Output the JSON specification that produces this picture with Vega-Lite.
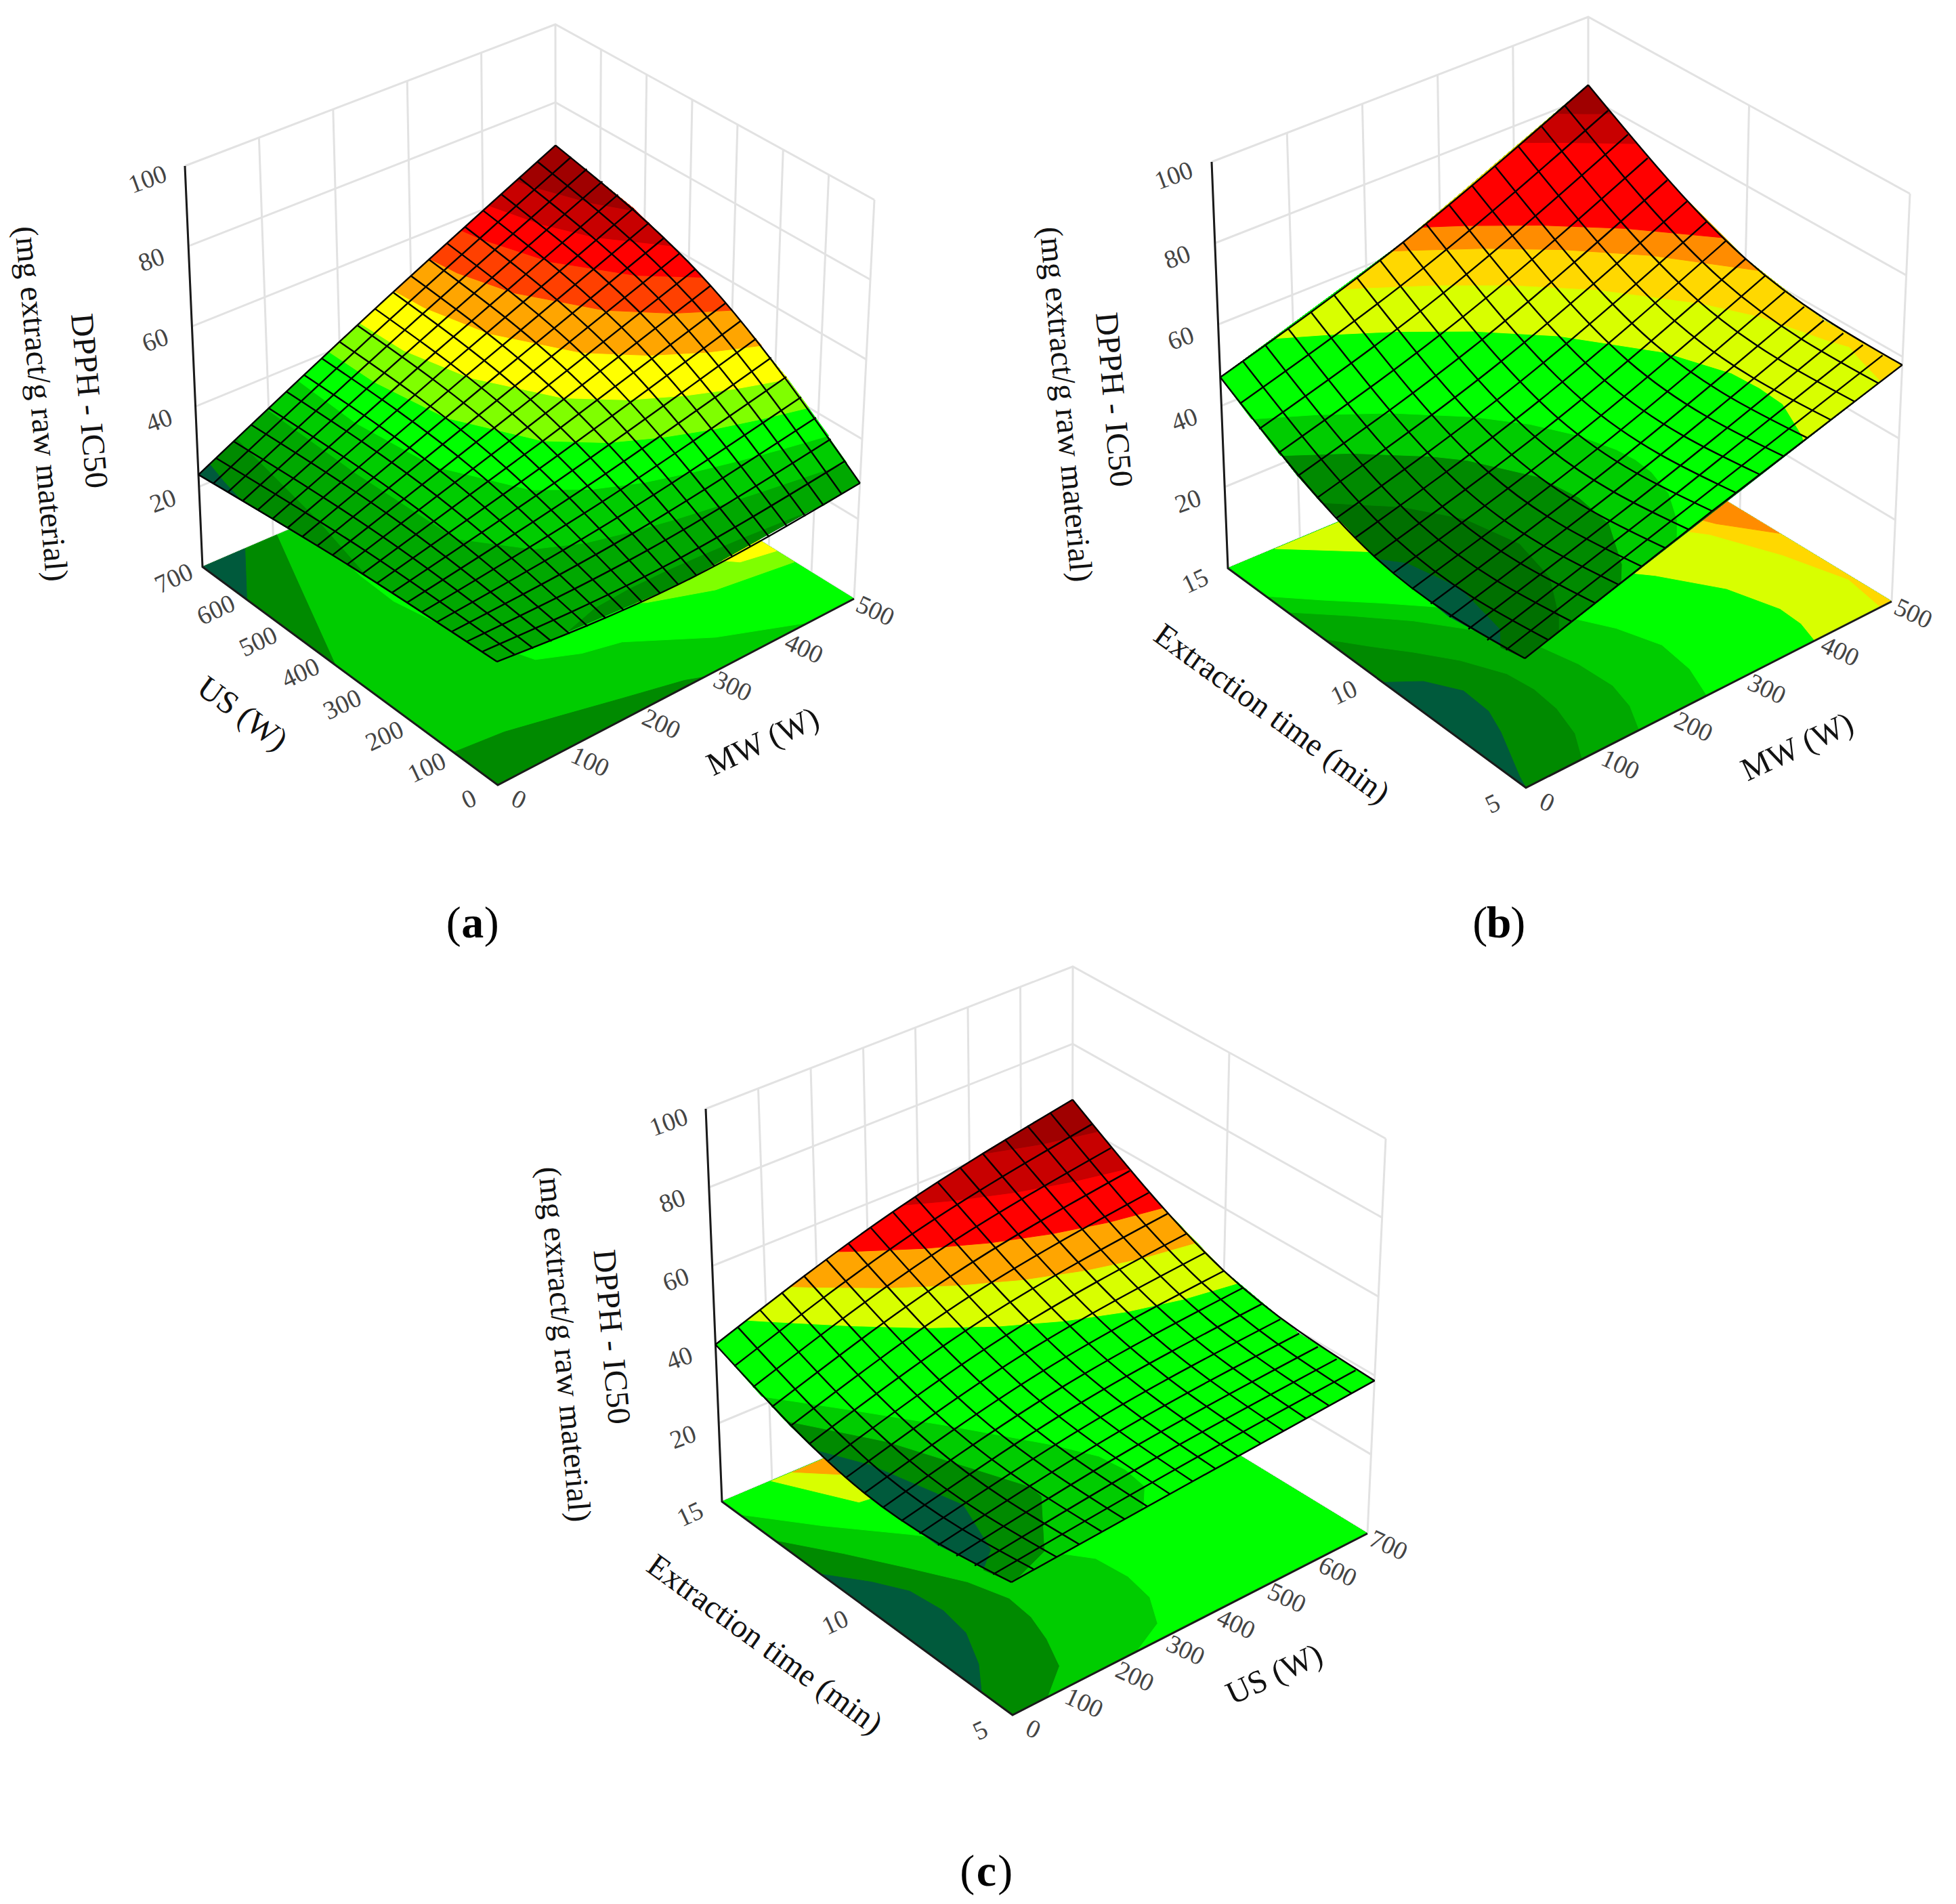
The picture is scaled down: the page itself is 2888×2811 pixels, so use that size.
{"$schema":"https://vega.github.io/schema/vega-lite/v6.json","width":2888,"height":2811,"padding":0,"autosize":{"type":"fit","contains":"padding"},"background":"white","config":{"view":{"stroke":null}},
"params":[{"name":"G","value":{"a":{"x":[735,1261,299,821,731,1291,273,820],"y":[1159,884,837,612,552,295,245,36]},"b":{"x":[2253,2793,1813,2345,2248,2820,1789,2345],"y":[1163,888,839,616,547,286,239,25]},"c":{"x":[1495,2019,1066,1583,1490,2046,1042,1584],"y":[2532,2264,2217,1998,1936,1681,1637,1427]}}}],
"data":{"values":[
{"k":"w","p":"a","l":"u0","u":0,"v":1,"z":0},{"k":"w","p":"a","l":"u0","u":0,"v":1,"z":100},{"k":"w","p":"a","l":"u1","u":0.2,"v":1,"z":0},{"k":"w","p":"a","l":"u1","u":0.2,"v":1,"z":100},{"k":"w","p":"a","l":"u2","u":0.4,"v":1,"z":0},{"k":"w","p":"a","l":"u2","u":0.4,"v":1,"z":100},{"k":"w","p":"a","l":"u3","u":0.6,"v":1,"z":0},{"k":"w","p":"a","l":"u3","u":0.6,"v":1,"z":100},{"k":"w","p":"a","l":"u4","u":0.8,"v":1,"z":0},{"k":"w","p":"a","l":"u4","u":0.8,"v":1,"z":100},{"k":"w","p":"a","l":"u5","u":1,"v":1,"z":0},{"k":"w","p":"a","l":"u5","u":1,"v":1,"z":100},
{"k":"w","p":"a","l":"v1","u":1,"v":0.143,"z":0},{"k":"w","p":"a","l":"v1","u":1,"v":0.143,"z":100},{"k":"w","p":"a","l":"v2","u":1,"v":0.286,"z":0},{"k":"w","p":"a","l":"v2","u":1,"v":0.286,"z":100},{"k":"w","p":"a","l":"v3","u":1,"v":0.429,"z":0},{"k":"w","p":"a","l":"v3","u":1,"v":0.429,"z":100},{"k":"w","p":"a","l":"v4","u":1,"v":0.571,"z":0},{"k":"w","p":"a","l":"v4","u":1,"v":0.571,"z":100},{"k":"w","p":"a","l":"v5","u":1,"v":0.714,"z":0},{"k":"w","p":"a","l":"v5","u":1,"v":0.714,"z":100},{"k":"w","p":"a","l":"v6","u":1,"v":0.857,"z":0},{"k":"w","p":"a","l":"v6","u":1,"v":0.857,"z":100},{"k":"w","p":"a","l":"v7","u":1,"v":0,"z":0},{"k":"w","p":"a","l":"v7","u":1,"v":0,"z":100},
{"k":"w","p":"b","l":"u0","u":0,"v":1,"z":0},{"k":"w","p":"b","l":"u0","u":0,"v":1,"z":100},{"k":"w","p":"b","l":"u1","u":0.2,"v":1,"z":0},{"k":"w","p":"b","l":"u1","u":0.2,"v":1,"z":100},{"k":"w","p":"b","l":"u2","u":0.4,"v":1,"z":0},{"k":"w","p":"b","l":"u2","u":0.4,"v":1,"z":100},{"k":"w","p":"b","l":"u3","u":0.6,"v":1,"z":0},{"k":"w","p":"b","l":"u3","u":0.6,"v":1,"z":100},{"k":"w","p":"b","l":"u4","u":0.8,"v":1,"z":0},{"k":"w","p":"b","l":"u4","u":0.8,"v":1,"z":100},{"k":"w","p":"b","l":"u5","u":1,"v":1,"z":0},{"k":"w","p":"b","l":"u5","u":1,"v":1,"z":100},{"k":"w","p":"b","l":"v1","u":1,"v":0.5,"z":0},{"k":"w","p":"b","l":"v1","u":1,"v":0.5,"z":100},{"k":"w","p":"b","l":"v2","u":1,"v":0,"z":0},{"k":"w","p":"b","l":"v2","u":1,"v":0,"z":100},
{"k":"w","p":"c","l":"u0","u":0,"v":1,"z":0},{"k":"w","p":"c","l":"u0","u":0,"v":1,"z":100},{"k":"w","p":"c","l":"u1","u":0.143,"v":1,"z":0},{"k":"w","p":"c","l":"u1","u":0.143,"v":1,"z":100},{"k":"w","p":"c","l":"u2","u":0.286,"v":1,"z":0},{"k":"w","p":"c","l":"u2","u":0.286,"v":1,"z":100},{"k":"w","p":"c","l":"u3","u":0.429,"v":1,"z":0},{"k":"w","p":"c","l":"u3","u":0.429,"v":1,"z":100},{"k":"w","p":"c","l":"u4","u":0.571,"v":1,"z":0},{"k":"w","p":"c","l":"u4","u":0.571,"v":1,"z":100},{"k":"w","p":"c","l":"u5","u":0.714,"v":1,"z":0},{"k":"w","p":"c","l":"u5","u":0.714,"v":1,"z":100},{"k":"w","p":"c","l":"u6","u":0.857,"v":1,"z":0},{"k":"w","p":"c","l":"u6","u":0.857,"v":1,"z":100},{"k":"w","p":"c","l":"u7","u":1,"v":1,"z":0},{"k":"w","p":"c","l":"u7","u":1,"v":1,"z":100},{"k":"w","p":"c","l":"v1","u":1,"v":0.5,"z":0},{"k":"w","p":"c","l":"v1","u":1,"v":0.5,"z":100},{"k":"w","p":"c","l":"v2","u":1,"v":0,"z":0},{"k":"w","p":"c","l":"v2","u":1,"v":0,"z":100},
{"k":"w","p":"a","l":"z0","u":0,"v":1,"z":0},{"k":"w","p":"a","l":"z0","u":1,"v":1,"z":0},{"k":"w","p":"a","l":"z0","u":1,"v":0,"z":0},{"k":"w","p":"a","l":"z20","u":0,"v":1,"z":20},{"k":"w","p":"a","l":"z20","u":1,"v":1,"z":20},{"k":"w","p":"a","l":"z20","u":1,"v":0,"z":20},{"k":"w","p":"a","l":"z40","u":0,"v":1,"z":40},{"k":"w","p":"a","l":"z40","u":1,"v":1,"z":40},{"k":"w","p":"a","l":"z40","u":1,"v":0,"z":40},{"k":"w","p":"a","l":"z60","u":0,"v":1,"z":60},{"k":"w","p":"a","l":"z60","u":1,"v":1,"z":60},{"k":"w","p":"a","l":"z60","u":1,"v":0,"z":60},{"k":"w","p":"a","l":"z80","u":0,"v":1,"z":80},{"k":"w","p":"a","l":"z80","u":1,"v":1,"z":80},{"k":"w","p":"a","l":"z80","u":1,"v":0,"z":80},{"k":"w","p":"a","l":"z100","u":0,"v":1,"z":100},{"k":"w","p":"a","l":"z100","u":1,"v":1,"z":100},{"k":"w","p":"a","l":"z100","u":1,"v":0,"z":100},
{"k":"w","p":"b","l":"z0","u":0,"v":1,"z":0},{"k":"w","p":"b","l":"z0","u":1,"v":1,"z":0},{"k":"w","p":"b","l":"z0","u":1,"v":0,"z":0},{"k":"w","p":"b","l":"z20","u":0,"v":1,"z":20},{"k":"w","p":"b","l":"z20","u":1,"v":1,"z":20},{"k":"w","p":"b","l":"z20","u":1,"v":0,"z":20},{"k":"w","p":"b","l":"z40","u":0,"v":1,"z":40},{"k":"w","p":"b","l":"z40","u":1,"v":1,"z":40},{"k":"w","p":"b","l":"z40","u":1,"v":0,"z":40},{"k":"w","p":"b","l":"z60","u":0,"v":1,"z":60},{"k":"w","p":"b","l":"z60","u":1,"v":1,"z":60},{"k":"w","p":"b","l":"z60","u":1,"v":0,"z":60},{"k":"w","p":"b","l":"z80","u":0,"v":1,"z":80},{"k":"w","p":"b","l":"z80","u":1,"v":1,"z":80},{"k":"w","p":"b","l":"z80","u":1,"v":0,"z":80},{"k":"w","p":"b","l":"z100","u":0,"v":1,"z":100},{"k":"w","p":"b","l":"z100","u":1,"v":1,"z":100},{"k":"w","p":"b","l":"z100","u":1,"v":0,"z":100},
{"k":"w","p":"c","l":"z0","u":0,"v":1,"z":0},{"k":"w","p":"c","l":"z0","u":1,"v":1,"z":0},{"k":"w","p":"c","l":"z0","u":1,"v":0,"z":0},{"k":"w","p":"c","l":"z20","u":0,"v":1,"z":20},{"k":"w","p":"c","l":"z20","u":1,"v":1,"z":20},{"k":"w","p":"c","l":"z20","u":1,"v":0,"z":20},{"k":"w","p":"c","l":"z40","u":0,"v":1,"z":40},{"k":"w","p":"c","l":"z40","u":1,"v":1,"z":40},{"k":"w","p":"c","l":"z40","u":1,"v":0,"z":40},{"k":"w","p":"c","l":"z60","u":0,"v":1,"z":60},{"k":"w","p":"c","l":"z60","u":1,"v":1,"z":60},{"k":"w","p":"c","l":"z60","u":1,"v":0,"z":60},{"k":"w","p":"c","l":"z80","u":0,"v":1,"z":80},{"k":"w","p":"c","l":"z80","u":1,"v":1,"z":80},{"k":"w","p":"c","l":"z80","u":1,"v":0,"z":80},{"k":"w","p":"c","l":"z100","u":0,"v":1,"z":100},{"k":"w","p":"c","l":"z100","u":1,"v":1,"z":100},{"k":"w","p":"c","l":"z100","u":1,"v":0,"z":100},
{"k":"x","p":"a","u":0,"v":1,"z":100},{"k":"x","p":"a","u":0,"v":1,"z":0},{"k":"x","p":"a","u":0,"v":0,"z":0},{"k":"x","p":"a","u":1,"v":0,"z":0},{"k":"x","p":"b","u":0,"v":1,"z":100},{"k":"x","p":"b","u":0,"v":1,"z":0},{"k":"x","p":"b","u":0,"v":0,"z":0},{"k":"x","p":"b","u":1,"v":0,"z":0},{"k":"x","p":"c","u":0,"v":1,"z":100},{"k":"x","p":"c","u":0,"v":1,"z":0},{"k":"x","p":"c","u":0,"v":0,"z":0},{"k":"x","p":"c","u":1,"v":0,"z":0},

{"k":"f","p":"a","b":"m","u":0,"v":0,"z":0},{"k":"f","p":"a","b":"m","u":1,"v":0,"z":0},{"k":"f","p":"a","b":"m","u":1,"v":1,"z":0},{"k":"f","p":"a","b":"m","u":0,"v":1,"z":0},
{"k":"f","p":"a","b":"d","u":0,"v":0,"z":0},{"k":"f","p":"a","b":"d","u":0,"v":0.15,"z":0},{"k":"f","p":"a","b":"d","u":0.13,"v":0.135,"z":0},{"k":"f","p":"a","b":"d","u":0.26,"v":0.1,"z":0},{"k":"f","p":"a","b":"d","u":0.4,"v":0.06,"z":0},{"k":"f","p":"a","b":"d","u":0.54,"v":0.02,"z":0},{"k":"f","p":"a","b":"d","u":0.58,"v":0,"z":0},
{"k":"f","p":"a","b":"d2","u":0,"v":0.55,"z":0},{"k":"f","p":"a","b":"d2","u":0.12,"v":0.81,"z":0},{"k":"f","p":"a","b":"d2","u":0.21,"v":1,"z":0},{"k":"f","p":"a","b":"d2","u":0,"v":1,"z":0},
{"k":"f","p":"a","b":"t","u":0,"v":0.85,"z":0},{"k":"f","p":"a","b":"t","u":0.12,"v":1,"z":0},{"k":"f","p":"a","b":"t","u":0,"v":1,"z":0},
{"k":"f","p":"a","b":"g","u":0.3,"v":1,"z":0},{"k":"f","p":"a","b":"g","u":0.278,"v":0.923,"z":0},{"k":"f","p":"a","b":"g","u":0.256,"v":0.773,"z":0},{"k":"f","p":"a","b":"g","u":0.251,"v":0.654,"z":0},{"k":"f","p":"a","b":"g","u":0.281,"v":0.49,"z":0},{"k":"f","p":"a","b":"g","u":0.349,"v":0.293,"z":0},{"k":"f","p":"a","b":"g","u":0.44,"v":0.245,"z":0},{"k":"f","p":"a","b":"g","u":0.532,"v":0.22,"z":0},{"k":"f","p":"a","b":"g","u":0.692,"v":0.097,"z":0},{"k":"f","p":"a","b":"g","u":0.872,"v":0,"z":0},{"k":"f","p":"a","b":"g","u":1,"v":0,"z":0},{"k":"f","p":"a","b":"g","u":1,"v":1,"z":0},
{"k":"f","p":"a","b":"l","u":0.4,"v":1,"z":0},{"k":"f","p":"a","b":"l","u":0.45,"v":0.45,"z":0},{"k":"f","p":"a","b":"l","u":0.667,"v":0.298,"z":0},{"k":"f","p":"a","b":"l","u":0.807,"v":0.235,"z":0},{"k":"f","p":"a","b":"l","u":1,"v":0.2,"z":0},{"k":"f","p":"a","b":"l","u":1,"v":1,"z":0},
{"k":"f","p":"a","b":"y","u":0.6,"v":1,"z":0},{"k":"f","p":"a","b":"y","u":0.65,"v":0.6,"z":0},{"k":"f","p":"a","b":"y","u":0.915,"v":0.281,"z":0},{"k":"f","p":"a","b":"y","u":1,"v":0.26,"z":0},{"k":"f","p":"a","b":"y","u":1,"v":1,"z":0},

{"k":"f","p":"b","b":"d","u":0,"v":0,"z":0},{"k":"f","p":"b","b":"d","u":1,"v":0,"z":0},{"k":"f","p":"b","b":"d","u":1,"v":1,"z":0},{"k":"f","p":"b","b":"d","u":0,"v":1,"z":0},
{"k":"f","p":"b","b":"t","u":0,"v":0.48,"z":0},{"k":"f","p":"b","b":"t","u":0.07,"v":0.43,"z":0},{"k":"f","p":"b","b":"t","u":0.115,"v":0.35,"z":0},{"k":"f","p":"b","b":"t","u":0.11,"v":0.26,"z":0},{"k":"f","p":"b","b":"t","u":0.083,"v":0.186,"z":0},{"k":"f","p":"b","b":"t","u":0.014,"v":0.038,"z":0},{"k":"f","p":"b","b":"t","u":0,"v":0,"z":0},
{"k":"f","p":"b","b":"e","u":0,"v":1,"z":0},{"k":"f","p":"b","b":"e","u":1,"v":1,"z":0},{"k":"f","p":"b","b":"e","u":1,"v":0,"z":0},{"k":"f","p":"b","b":"e","u":0.154,"v":0,"z":0},{"k":"f","p":"b","b":"e","u":0.2,"v":0.08,"z":0},{"k":"f","p":"b","b":"e","u":0.227,"v":0.174,"z":0},{"k":"f","p":"b","b":"e","u":0.235,"v":0.26,"z":0},{"k":"f","p":"b","b":"e","u":0.226,"v":0.34,"z":0},{"k":"f","p":"b","b":"e","u":0.18,"v":0.44,"z":0},{"k":"f","p":"b","b":"e","u":0.121,"v":0.525,"z":0},{"k":"f","p":"b","b":"e","u":0.06,"v":0.6,"z":0},{"k":"f","p":"b","b":"e","u":0,"v":0.678,"z":0},
{"k":"f","p":"b","b":"m","u":0,"v":1,"z":0},{"k":"f","p":"b","b":"m","u":1,"v":1,"z":0},{"k":"f","p":"b","b":"m","u":1,"v":0,"z":0},{"k":"f","p":"b","b":"m","u":0.31,"v":0,"z":0},{"k":"f","p":"b","b":"m","u":0.35,"v":0.08,"z":0},{"k":"f","p":"b","b":"m","u":0.37,"v":0.162,"z":0},{"k":"f","p":"b","b":"m","u":0.365,"v":0.27,"z":0},{"k":"f","p":"b","b":"m","u":0.342,"v":0.379,"z":0},{"k":"f","p":"b","b":"m","u":0.28,"v":0.5,"z":0},{"k":"f","p":"b","b":"m","u":0.194,"v":0.615,"z":0},{"k":"f","p":"b","b":"m","u":0.1,"v":0.71,"z":0},{"k":"f","p":"b","b":"m","u":0,"v":0.8,"z":0},
{"k":"f","p":"b","b":"g","u":0,"v":1,"z":0},{"k":"f","p":"b","b":"g","u":1,"v":1,"z":0},{"k":"f","p":"b","b":"g","u":1,"v":0,"z":0},{"k":"f","p":"b","b":"g","u":0.495,"v":0,"z":0},{"k":"f","p":"b","b":"g","u":0.53,"v":0.1,"z":0},{"k":"f","p":"b","b":"g","u":0.543,"v":0.208,"z":0},{"k":"f","p":"b","b":"g","u":0.51,"v":0.32,"z":0},{"k":"f","p":"b","b":"g","u":0.459,"v":0.418,"z":0},{"k":"f","p":"b","b":"g","u":0.33,"v":0.56,"z":0},{"k":"f","p":"b","b":"g","u":0.183,"v":0.707,"z":0},{"k":"f","p":"b","b":"g","u":0.09,"v":0.79,"z":0},{"k":"f","p":"b","b":"g","u":0,"v":0.873,"z":0},
{"k":"f","p":"b","b":"z","u":0.13,"v":1,"z":0},{"k":"f","p":"b","b":"z","u":0.29,"v":0.87,"z":0},{"k":"f","p":"b","b":"z","u":0.45,"v":0.72,"z":0},{"k":"f","p":"b","b":"z","u":0.58,"v":0.57,"z":0},{"k":"f","p":"b","b":"z","u":0.7,"v":0.42,"z":0},{"k":"f","p":"b","b":"z","u":0.78,"v":0.28,"z":0},{"k":"f","p":"b","b":"z","u":0.814,"v":0.144,"z":0},{"k":"f","p":"b","b":"z","u":0.81,"v":0.07,"z":0},{"k":"f","p":"b","b":"z","u":0.79,"v":0,"z":0},{"k":"f","p":"b","b":"z","u":1,"v":0,"z":0},{"k":"f","p":"b","b":"z","u":1,"v":1,"z":0},
{"k":"f","p":"b","b":"n","u":0.5,"v":1,"z":0},{"k":"f","p":"b","b":"n","u":0.889,"v":0.466,"z":0},{"k":"f","p":"b","b":"n","u":0.95,"v":0.3,"z":0},{"k":"f","p":"b","b":"n","u":0.99,"v":0.13,"z":0},{"k":"f","p":"b","b":"n","u":0.97,"v":0,"z":0},{"k":"f","p":"b","b":"n","u":1,"v":0,"z":0},{"k":"f","p":"b","b":"n","u":1,"v":1,"z":0},
{"k":"f","p":"b","b":"h","u":0.7,"v":1,"z":0},{"k":"f","p":"b","b":"h","u":0.926,"v":0.49,"z":0},{"k":"f","p":"b","b":"h","u":1,"v":0.37,"z":0},{"k":"f","p":"b","b":"h","u":1,"v":1,"z":0},

{"k":"f","p":"c","b":"d","u":0,"v":0,"z":0},{"k":"f","p":"c","b":"d","u":1,"v":0,"z":0},{"k":"f","p":"c","b":"d","u":1,"v":1,"z":0},{"k":"f","p":"c","b":"d","u":0,"v":1,"z":0},
{"k":"f","p":"c","b":"t","u":0,"v":0.66,"z":0},{"k":"f","p":"c","b":"t","u":0.07,"v":0.57,"z":0},{"k":"f","p":"c","b":"t","u":0.114,"v":0.492,"z":0},{"k":"f","p":"c","b":"t","u":0.125,"v":0.39,"z":0},{"k":"f","p":"c","b":"t","u":0.111,"v":0.296,"z":0},{"k":"f","p":"c","b":"t","u":0.06,"v":0.19,"z":0},{"k":"f","p":"c","b":"t","u":0,"v":0.107,"z":0},
{"k":"f","p":"c","b":"m","u":0,"v":1,"z":0},{"k":"f","p":"c","b":"m","u":1,"v":1,"z":0},{"k":"f","p":"c","b":"m","u":1,"v":0,"z":0},{"k":"f","p":"c","b":"m","u":0.1,"v":0,"z":0},{"k":"f","p":"c","b":"m","u":0.19,"v":0.07,"z":0},{"k":"f","p":"c","b":"m","u":0.232,"v":0.165,"z":0},{"k":"f","p":"c","b":"m","u":0.258,"v":0.25,"z":0},{"k":"f","p":"c","b":"m","u":0.266,"v":0.335,"z":0},{"k":"f","p":"c","b":"m","u":0.235,"v":0.44,"z":0},{"k":"f","p":"c","b":"m","u":0.169,"v":0.559,"z":0},{"k":"f","p":"c","b":"m","u":0.09,"v":0.69,"z":0},{"k":"f","p":"c","b":"m","u":0,"v":0.82,"z":0},
{"k":"f","p":"c","b":"g","u":0,"v":1,"z":0},{"k":"f","p":"c","b":"g","u":1,"v":1,"z":0},{"k":"f","p":"c","b":"g","u":1,"v":0,"z":0},{"k":"f","p":"c","b":"g","u":0.35,"v":0,"z":0},{"k":"f","p":"c","b":"g","u":0.45,"v":0.05,"z":0},{"k":"f","p":"c","b":"g","u":0.5,"v":0.137,"z":0},{"k":"f","p":"c","b":"g","u":0.515,"v":0.23,"z":0},{"k":"f","p":"c","b":"g","u":0.506,"v":0.329,"z":0},{"k":"f","p":"c","b":"g","u":0.42,"v":0.45,"z":0},{"k":"f","p":"c","b":"g","u":0.251,"v":0.659,"z":0},{"k":"f","p":"c","b":"g","u":0.12,"v":0.8,"z":0},{"k":"f","p":"c","b":"g","u":0,"v":0.94,"z":0},
{"k":"f","p":"c","b":"z","u":0.14,"v":1,"z":0},{"k":"f","p":"c","b":"z","u":0.243,"v":0.822,"z":0},{"k":"f","p":"c","b":"z","u":0.4,"v":0.8,"z":0},{"k":"f","p":"c","b":"z","u":0.5,"v":1,"z":0},
{"k":"f","p":"c","b":"o","u":0.2,"v":1,"z":0},{"k":"f","p":"c","b":"o","u":0.28,"v":0.93,"z":0},{"k":"f","p":"c","b":"o","u":0.4,"v":0.95,"z":0},{"k":"f","p":"c","b":"o","u":0.45,"v":1,"z":0},

{"k":"s","p":"a","b":"t","u":0,"v":0,"z":30},{"k":"s","p":"a","b":"t","u":0.5,"v":0,"z":26.5},{"k":"s","p":"a","b":"t","u":1,"v":0,"z":29},{"k":"s","p":"a","b":"t","u":1,"v":0.25,"z":44.25},{"k":"s","p":"a","b":"t","u":1,"v":0.5,"z":56},{"k":"s","p":"a","b":"t","u":1,"v":0.75,"z":64.25},{"k":"s","p":"a","b":"t","u":1,"v":1,"z":69},{"k":"s","p":"a","b":"t","u":0,"v":1,"z":23},{"k":"s","p":"a","b":"t","u":0,"v":0.5,"z":27.5},
{"k":"s","p":"a","b":"d","u":0,"v":0,"z":30},{"k":"s","p":"a","b":"d","u":0.5,"v":0,"z":26.5},{"k":"s","p":"a","b":"d","u":1,"v":0,"z":29},{"k":"s","p":"a","b":"d","u":1,"v":0.25,"z":44.25},{"k":"s","p":"a","b":"d","u":1,"v":0.5,"z":56},{"k":"s","p":"a","b":"d","u":1,"v":0.75,"z":64.25},{"k":"s","p":"a","b":"d","u":1,"v":1,"z":69},{"k":"s","p":"a","b":"d","u":0.033,"v":1,"z":24.5},{"k":"s","p":"a","b":"d","u":0.015,"v":0.93,"z":24.5},{"k":"s","p":"a","b":"d","u":0,"v":0.855,"z":24.5},{"k":"s","p":"a","b":"d","u":0,"v":0.5,"z":27.5},
{"k":"s","p":"a","b":"e","u":0,"v":0,"z":30},{"k":"s","p":"a","b":"e","u":0,"v":0.43,"z":28},{"k":"s","p":"a","b":"e","u":0.05,"v":0.657,"z":28},{"k":"s","p":"a","b":"e","u":0.1,"v":0.951,"z":28},{"k":"s","p":"a","b":"e","u":0.109,"v":1,"z":28},{"k":"s","p":"a","b":"e","u":1,"v":1,"z":69},{"k":"s","p":"a","b":"e","u":1,"v":0.75,"z":64.25},{"k":"s","p":"a","b":"e","u":1,"v":0.5,"z":56},{"k":"s","p":"a","b":"e","u":1,"v":0.25,"z":44.25},{"k":"s","p":"a","b":"e","u":1,"v":0,"z":29},{"k":"s","p":"a","b":"e","u":0.9,"v":0,"z":28},{"k":"s","p":"a","b":"e","u":0.8,"v":0.0125,"z":28},{"k":"s","p":"a","b":"e","u":0.7,"v":0.024,"z":28},{"k":"s","p":"a","b":"e","u":0.6,"v":0.033,"z":28},{"k":"s","p":"a","b":"e","u":0.5,"v":0.04,"z":28},{"k":"s","p":"a","b":"e","u":0.4,"v":0.042,"z":28},{"k":"s","p":"a","b":"e","u":0.3,"v":0.036,"z":28},{"k":"s","p":"a","b":"e","u":0.2,"v":0.008,"z":28},{"k":"s","p":"a","b":"e","u":0.186,"v":0,"z":28},
{"k":"s","p":"a","b":"m","u":0.196,"v":1,"z":32},{"k":"s","p":"a","b":"m","u":0.19,"v":0.7,"z":32},{"k":"s","p":"a","b":"m","u":0.2,"v":0.375,"z":32},{"k":"s","p":"a","b":"m","u":0.3,"v":0.242,"z":32},{"k":"s","p":"a","b":"m","u":0.4,"v":0.187,"z":32},{"k":"s","p":"a","b":"m","u":0.5,"v":0.155,"z":32},{"k":"s","p":"a","b":"m","u":0.6,"v":0.128,"z":32},{"k":"s","p":"a","b":"m","u":0.7,"v":0.106,"z":32},{"k":"s","p":"a","b":"m","u":0.8,"v":0.085,"z":32},{"k":"s","p":"a","b":"m","u":0.9,"v":0.065,"z":32},{"k":"s","p":"a","b":"m","u":1,"v":0.045,"z":32},{"k":"s","p":"a","b":"m","u":1,"v":0.25,"z":44.25},{"k":"s","p":"a","b":"m","u":1,"v":0.5,"z":56},{"k":"s","p":"a","b":"m","u":1,"v":0.75,"z":64.25},{"k":"s","p":"a","b":"m","u":1,"v":1,"z":69},
{"k":"s","p":"a","b":"g","u":0.283,"v":1,"z":36},{"k":"s","p":"a","b":"g","u":0.275,"v":0.8,"z":36},{"k":"s","p":"a","b":"g","u":0.3,"v":0.566,"z":36},{"k":"s","p":"a","b":"g","u":0.4,"v":0.37,"z":36},{"k":"s","p":"a","b":"g","u":0.5,"v":0.287,"z":36},{"k":"s","p":"a","b":"g","u":0.6,"v":0.234,"z":36},{"k":"s","p":"a","b":"g","u":0.7,"v":0.196,"z":36},{"k":"s","p":"a","b":"g","u":0.8,"v":0.163,"z":36},{"k":"s","p":"a","b":"g","u":0.9,"v":0.134,"z":36},{"k":"s","p":"a","b":"g","u":1,"v":0.107,"z":36},{"k":"s","p":"a","b":"g","u":1,"v":0.25,"z":44.25},{"k":"s","p":"a","b":"g","u":1,"v":0.5,"z":56},{"k":"s","p":"a","b":"g","u":1,"v":0.75,"z":64.25},{"k":"s","p":"a","b":"g","u":1,"v":1,"z":69},
{"k":"s","p":"a","b":"l","u":0.37,"v":1,"z":40},{"k":"s","p":"a","b":"l","u":0.37,"v":0.85,"z":40},{"k":"s","p":"a","b":"l","u":0.4,"v":0.648,"z":40},{"k":"s","p":"a","b":"l","u":0.5,"v":0.451,"z":40},{"k":"s","p":"a","b":"l","u":0.6,"v":0.356,"z":40},{"k":"s","p":"a","b":"l","u":0.7,"v":0.295,"z":40},{"k":"s","p":"a","b":"l","u":0.8,"v":0.247,"z":40},{"k":"s","p":"a","b":"l","u":0.9,"v":0.208,"z":40},{"k":"s","p":"a","b":"l","u":1,"v":0.174,"z":40},{"k":"s","p":"a","b":"l","u":1,"v":0.25,"z":44.25},{"k":"s","p":"a","b":"l","u":1,"v":0.5,"z":56},{"k":"s","p":"a","b":"l","u":1,"v":0.75,"z":64.25},{"k":"s","p":"a","b":"l","u":1,"v":1,"z":69},
{"k":"s","p":"a","b":"y","u":0.457,"v":1,"z":44},{"k":"s","p":"a","b":"y","u":0.46,"v":0.86,"z":44},{"k":"s","p":"a","b":"y","u":0.5,"v":0.69,"z":44},{"k":"s","p":"a","b":"y","u":0.6,"v":0.504,"z":44},{"k":"s","p":"a","b":"y","u":0.7,"v":0.408,"z":44},{"k":"s","p":"a","b":"y","u":0.8,"v":0.341,"z":44},{"k":"s","p":"a","b":"y","u":0.9,"v":0.288,"z":44},{"k":"s","p":"a","b":"y","u":1,"v":0.244,"z":44},{"k":"s","p":"a","b":"y","u":1,"v":0.5,"z":56},{"k":"s","p":"a","b":"y","u":1,"v":0.75,"z":64.25},{"k":"s","p":"a","b":"y","u":1,"v":1,"z":69},
{"k":"s","p":"a","b":"o","u":0.554,"v":1,"z":48.5},{"k":"s","p":"a","b":"o","u":0.56,"v":0.91,"z":48.5},{"k":"s","p":"a","b":"o","u":0.6,"v":0.744,"z":48.5},{"k":"s","p":"a","b":"o","u":0.7,"v":0.562,"z":48.5},{"k":"s","p":"a","b":"o","u":0.8,"v":0.461,"z":48.5},{"k":"s","p":"a","b":"o","u":0.9,"v":0.388,"z":48.5},{"k":"s","p":"a","b":"o","u":1,"v":0.332,"z":48.5},{"k":"s","p":"a","b":"o","u":1,"v":0.5,"z":56},{"k":"s","p":"a","b":"o","u":1,"v":0.75,"z":64.25},{"k":"s","p":"a","b":"o","u":1,"v":1,"z":69},
{"k":"s","p":"a","b":"f","u":0.652,"v":1,"z":53},{"k":"s","p":"a","b":"f","u":0.66,"v":0.92,"z":53},{"k":"s","p":"a","b":"f","u":0.7,"v":0.783,"z":53},{"k":"s","p":"a","b":"f","u":0.8,"v":0.607,"z":53},{"k":"s","p":"a","b":"f","u":0.9,"v":0.503,"z":53},{"k":"s","p":"a","b":"f","u":1,"v":0.429,"z":53},{"k":"s","p":"a","b":"f","u":1,"v":0.5,"z":56},{"k":"s","p":"a","b":"f","u":1,"v":0.75,"z":64.25},{"k":"s","p":"a","b":"f","u":1,"v":1,"z":69},
{"k":"s","p":"a","b":"r","u":0.739,"v":1,"z":57},{"k":"s","p":"a","b":"r","u":0.75,"v":0.94,"z":57},{"k":"s","p":"a","b":"r","u":0.8,"v":0.783,"z":57},{"k":"s","p":"a","b":"r","u":0.9,"v":0.624,"z":57},{"k":"s","p":"a","b":"r","u":1,"v":0.525,"z":57},{"k":"s","p":"a","b":"r","u":1,"v":0.75,"z":64.25},{"k":"s","p":"a","b":"r","u":1,"v":1,"z":69},
{"k":"s","p":"a","b":"c","u":0.815,"v":1,"z":60.5},{"k":"s","p":"a","b":"c","u":0.85,"v":0.87,"z":60.5},{"k":"s","p":"a","b":"c","u":0.9,"v":0.758,"z":60.5},{"k":"s","p":"a","b":"c","u":1,"v":0.623,"z":60.5},{"k":"s","p":"a","b":"c","u":1,"v":0.75,"z":64.25},{"k":"s","p":"a","b":"c","u":1,"v":1,"z":69},
{"k":"s","p":"a","b":"a","u":0.891,"v":1,"z":64},{"k":"s","p":"a","b":"a","u":0.9,"v":0.962,"z":64},{"k":"s","p":"a","b":"a","u":0.95,"v":0.83,"z":64},{"k":"s","p":"a","b":"a","u":1,"v":0.741,"z":64},{"k":"s","p":"a","b":"a","u":1,"v":1,"z":69},

{"k":"s","p":"b","b":"t","u":0,"v":0,"z":31},{"k":"s","p":"b","b":"t","u":1,"v":0,"z":58},{"k":"s","p":"b","b":"t","u":1,"v":0.25,"z":57.9},{"k":"s","p":"b","b":"t","u":1,"v":0.5,"z":62},{"k":"s","p":"b","b":"t","u":1,"v":0.75,"z":70.4},{"k":"s","p":"b","b":"t","u":1,"v":1,"z":83},{"k":"s","p":"b","b":"t","u":0.5,"v":1,"z":62.1},{"k":"s","p":"b","b":"t","u":0,"v":1,"z":47},{"k":"s","p":"b","b":"t","u":0,"v":0.75,"z":35.95},{"k":"s","p":"b","b":"t","u":0,"v":0.5,"z":29.6},{"k":"s","p":"b","b":"t","u":0,"v":0.25,"z":27.95},
{"k":"s","p":"b","b":"v","u":0,"v":0,"z":31},{"k":"s","p":"b","b":"v","u":0,"v":0.08,"z":29.5},{"k":"s","p":"b","b":"v","u":0.04,"v":0.13,"z":29.5},{"k":"s","p":"b","b":"v","u":0.07,"v":0.3,"z":29.5},{"k":"s","p":"b","b":"v","u":0.04,"v":0.44,"z":29.5},{"k":"s","p":"b","b":"v","u":0,"v":0.49,"z":29.5},{"k":"s","p":"b","b":"v","u":0,"v":0.75,"z":35.95},{"k":"s","p":"b","b":"v","u":0,"v":1,"z":47},{"k":"s","p":"b","b":"v","u":0.5,"v":1,"z":62.1},{"k":"s","p":"b","b":"v","u":1,"v":1,"z":83},{"k":"s","p":"b","b":"v","u":1,"v":0.75,"z":70.4},{"k":"s","p":"b","b":"v","u":1,"v":0.5,"z":62},{"k":"s","p":"b","b":"v","u":1,"v":0.25,"z":57.9},{"k":"s","p":"b","b":"v","u":1,"v":0,"z":58},
{"k":"s","p":"b","b":"d","u":0.0926,"v":0,"z":33.5},{"k":"s","p":"b","b":"d","u":0.125,"v":0.04,"z":33.5},{"k":"s","p":"b","b":"d","u":0.2,"v":0.162,"z":33.5},{"k":"s","p":"b","b":"d","u":0.23,"v":0.3,"z":33.5},{"k":"s","p":"b","b":"d","u":0.2,"v":0.442,"z":33.5},{"k":"s","p":"b","b":"d","u":0.125,"v":0.559,"z":33.5},{"k":"s","p":"b","b":"d","u":0,"v":0.673,"z":33.5},{"k":"s","p":"b","b":"d","u":0,"v":0.75,"z":35.95},{"k":"s","p":"b","b":"d","u":0,"v":1,"z":47},{"k":"s","p":"b","b":"d","u":0.5,"v":1,"z":62.1},{"k":"s","p":"b","b":"d","u":1,"v":1,"z":83},{"k":"s","p":"b","b":"d","u":1,"v":0.75,"z":70.4},{"k":"s","p":"b","b":"d","u":1,"v":0.5,"z":62},{"k":"s","p":"b","b":"d","u":1,"v":0.25,"z":57.9},{"k":"s","p":"b","b":"d","u":1,"v":0,"z":58},
{"k":"s","p":"b","b":"m","u":0.259,"v":0,"z":38},{"k":"s","p":"b","b":"m","u":0.3,"v":0.048,"z":38},{"k":"s","p":"b","b":"m","u":0.375,"v":0.182,"z":38},{"k":"s","p":"b","b":"m","u":0.39,"v":0.3,"z":38},{"k":"s","p":"b","b":"m","u":0.375,"v":0.414,"z":38},{"k":"s","p":"b","b":"m","u":0.3,"v":0.556,"z":38},{"k":"s","p":"b","b":"m","u":0.25,"v":0.615,"z":38},{"k":"s","p":"b","b":"m","u":0.125,"v":0.725,"z":38},{"k":"s","p":"b","b":"m","u":0,"v":0.806,"z":38},{"k":"s","p":"b","b":"m","u":0,"v":1,"z":47},{"k":"s","p":"b","b":"m","u":0.5,"v":1,"z":62.1},{"k":"s","p":"b","b":"m","u":1,"v":1,"z":83},{"k":"s","p":"b","b":"m","u":1,"v":0.75,"z":70.4},{"k":"s","p":"b","b":"m","u":1,"v":0.5,"z":62},{"k":"s","p":"b","b":"m","u":1,"v":0.25,"z":57.9},{"k":"s","p":"b","b":"m","u":1,"v":0,"z":58},
{"k":"s","p":"b","b":"g","u":0.407,"v":0,"z":42},{"k":"s","p":"b","b":"g","u":0.45,"v":0.052,"z":42},{"k":"s","p":"b","b":"g","u":0.5,"v":0.14,"z":42},{"k":"s","p":"b","b":"g","u":0.525,"v":0.227,"z":42},{"k":"s","p":"b","b":"g","u":0.53,"v":0.285,"z":42},{"k":"s","p":"b","b":"g","u":0.525,"v":0.34,"z":42},{"k":"s","p":"b","b":"g","u":0.5,"v":0.433,"z":42},{"k":"s","p":"b","b":"g","u":0.45,"v":0.532,"z":42},{"k":"s","p":"b","b":"g","u":0.375,"v":0.63,"z":42},{"k":"s","p":"b","b":"g","u":0.25,"v":0.745,"z":42},{"k":"s","p":"b","b":"g","u":0.125,"v":0.831,"z":42},{"k":"s","p":"b","b":"g","u":0,"v":0.9,"z":42},{"k":"s","p":"b","b":"g","u":0,"v":1,"z":47},{"k":"s","p":"b","b":"g","u":0.5,"v":1,"z":62.1},{"k":"s","p":"b","b":"g","u":1,"v":1,"z":83},{"k":"s","p":"b","b":"g","u":1,"v":0.75,"z":70.4},{"k":"s","p":"b","b":"g","u":1,"v":0.5,"z":62},{"k":"s","p":"b","b":"g","u":1,"v":0.25,"z":57.9},{"k":"s","p":"b","b":"g","u":1,"v":0,"z":58},
{"k":"s","p":"b","b":"z","u":0.153,"v":1,"z":51},{"k":"s","p":"b","b":"z","u":0.25,"v":0.948,"z":51},{"k":"s","p":"b","b":"z","u":0.375,"v":0.871,"z":51},{"k":"s","p":"b","b":"z","u":0.5,"v":0.776,"z":51},{"k":"s","p":"b","b":"z","u":0.625,"v":0.651,"z":51},{"k":"s","p":"b","b":"z","u":0.75,"v":0.458,"z":51},{"k":"s","p":"b","b":"z","u":0.8,"v":0.303,"z":51},{"k":"s","p":"b","b":"z","u":0.805,"v":0.22,"z":51},{"k":"s","p":"b","b":"z","u":0.8,"v":0.138,"z":51},{"k":"s","p":"b","b":"z","u":0.75,"v":0.014,"z":51},{"k":"s","p":"b","b":"z","u":0.741,"v":0,"z":51},{"k":"s","p":"b","b":"z","u":1,"v":0,"z":58},{"k":"s","p":"b","b":"z","u":1,"v":0.25,"z":57.9},{"k":"s","p":"b","b":"z","u":1,"v":0.5,"z":62},{"k":"s","p":"b","b":"z","u":1,"v":0.75,"z":70.4},{"k":"s","p":"b","b":"z","u":1,"v":1,"z":83},{"k":"s","p":"b","b":"z","u":0.5,"v":1,"z":62.1},
{"k":"s","p":"b","b":"n","u":0.335,"v":1,"z":56.5},{"k":"s","p":"b","b":"n","u":0.375,"v":0.977,"z":56.5},{"k":"s","p":"b","b":"n","u":0.5,"v":0.897,"z":56.5},{"k":"s","p":"b","b":"n","u":0.625,"v":0.799,"z":56.5},{"k":"s","p":"b","b":"n","u":0.75,"v":0.672,"z":56.5},{"k":"s","p":"b","b":"n","u":0.875,"v":0.49,"z":56.5},{"k":"s","p":"b","b":"n","u":0.93,"v":0.368,"z":56.5},{"k":"s","p":"b","b":"n","u":0.97,"v":0.197,"z":56.5},{"k":"s","p":"b","b":"n","u":0.985,"v":0.15,"z":56.5},{"k":"s","p":"b","b":"n","u":0.97,"v":0.101,"z":56.5},{"k":"s","p":"b","b":"n","u":0.944,"v":0,"z":56.5},{"k":"s","p":"b","b":"n","u":1,"v":0,"z":58},{"k":"s","p":"b","b":"n","u":1,"v":0.25,"z":57.9},{"k":"s","p":"b","b":"n","u":1,"v":0.5,"z":62},{"k":"s","p":"b","b":"n","u":1,"v":0.75,"z":70.4},{"k":"s","p":"b","b":"n","u":1,"v":1,"z":83},{"k":"s","p":"b","b":"n","u":0.5,"v":1,"z":62.1},
{"k":"s","p":"b","b":"h","u":0.47,"v":1,"z":61},{"k":"s","p":"b","b":"h","u":0.5,"v":0.981,"z":61},{"k":"s","p":"b","b":"h","u":0.625,"v":0.895,"z":61},{"k":"s","p":"b","b":"h","u":0.75,"v":0.789,"z":61},{"k":"s","p":"b","b":"h","u":0.875,"v":0.652,"z":61},{"k":"s","p":"b","b":"h","u":1,"v":0.457,"z":61},{"k":"s","p":"b","b":"h","u":1,"v":0.5,"z":62},{"k":"s","p":"b","b":"h","u":1,"v":0.75,"z":70.4},{"k":"s","p":"b","b":"h","u":1,"v":1,"z":83},{"k":"s","p":"b","b":"h","u":0.75,"v":1,"z":71.8},
{"k":"s","p":"b","b":"r","u":0.55,"v":1,"z":64},{"k":"s","p":"b","b":"r","u":0.625,"v":0.951,"z":64},{"k":"s","p":"b","b":"r","u":0.75,"v":0.854,"z":64},{"k":"s","p":"b","b":"r","u":0.875,"v":0.733,"z":64},{"k":"s","p":"b","b":"r","u":1,"v":0.573,"z":64},{"k":"s","p":"b","b":"r","u":1,"v":0.75,"z":70.4},{"k":"s","p":"b","b":"r","u":1,"v":1,"z":83},{"k":"s","p":"b","b":"r","u":0.75,"v":1,"z":71.8},
{"k":"s","p":"b","b":"c","u":0.825,"v":1,"z":75},{"k":"s","p":"b","b":"c","u":0.875,"v":0.961,"z":75},{"k":"s","p":"b","b":"c","u":0.94,"v":0.905,"z":75},{"k":"s","p":"b","b":"c","u":1,"v":0.851,"z":75},{"k":"s","p":"b","b":"c","u":1,"v":1,"z":83},
{"k":"s","p":"b","b":"a","u":0.915,"v":1,"z":79},{"k":"s","p":"b","b":"a","u":0.96,"v":0.961,"z":79},{"k":"s","p":"b","b":"a","u":1,"v":0.929,"z":79},{"k":"s","p":"b","b":"a","u":1,"v":1,"z":83},

{"k":"s","p":"c","b":"t","u":0,"v":0,"z":32.9},{"k":"s","p":"c","b":"t","u":1,"v":0,"z":38.7},{"k":"s","p":"c","b":"t","u":1,"v":0.25,"z":39.42},{"k":"s","p":"c","b":"t","u":1,"v":0.5,"z":44.15},{"k":"s","p":"c","b":"t","u":1,"v":0.75,"z":52.87},{"k":"s","p":"c","b":"t","u":1,"v":1,"z":65.6},{"k":"s","p":"c","b":"t","u":0.5,"v":1,"z":55.3},{"k":"s","p":"c","b":"t","u":0,"v":1,"z":40},{"k":"s","p":"c","b":"t","u":0,"v":0.75,"z":32.6},{"k":"s","p":"c","b":"t","u":0,"v":0.5,"z":28.95},{"k":"s","p":"c","b":"t","u":0,"v":0.25,"z":29.05},
{"k":"s","p":"c","b":"d","u":0,"v":0,"z":32.9},{"k":"s","p":"c","b":"d","u":0,"v":0.095,"z":31},{"k":"s","p":"c","b":"d","u":0.06,"v":0.142,"z":31},{"k":"s","p":"c","b":"d","u":0.12,"v":0.31,"z":31},{"k":"s","p":"c","b":"d","u":0.06,"v":0.55,"z":31},{"k":"s","p":"c","b":"d","u":0,"v":0.668,"z":31},{"k":"s","p":"c","b":"d","u":0,"v":0.75,"z":32.6},{"k":"s","p":"c","b":"d","u":0,"v":1,"z":40},{"k":"s","p":"c","b":"d","u":0.5,"v":1,"z":55.3},{"k":"s","p":"c","b":"d","u":1,"v":1,"z":65.6},{"k":"s","p":"c","b":"d","u":1,"v":0.75,"z":52.87},{"k":"s","p":"c","b":"d","u":1,"v":0.5,"z":44.15},{"k":"s","p":"c","b":"d","u":1,"v":0.25,"z":39.42},{"k":"s","p":"c","b":"d","u":1,"v":0,"z":38.7},
{"k":"s","p":"c","b":"m","u":0.017,"v":0,"z":33},{"k":"s","p":"c","b":"m","u":0.125,"v":0.04,"z":33},{"k":"s","p":"c","b":"m","u":0.25,"v":0.203,"z":33},{"k":"s","p":"c","b":"m","u":0.253,"v":0.23,"z":33},{"k":"s","p":"c","b":"m","u":0.25,"v":0.258,"z":33},{"k":"s","p":"c","b":"m","u":0.125,"v":0.572,"z":33},{"k":"s","p":"c","b":"m","u":0,"v":0.7675,"z":33},{"k":"s","p":"c","b":"m","u":0,"v":1,"z":40},{"k":"s","p":"c","b":"m","u":0.5,"v":1,"z":55.3},{"k":"s","p":"c","b":"m","u":1,"v":1,"z":65.6},{"k":"s","p":"c","b":"m","u":1,"v":0.75,"z":52.87},{"k":"s","p":"c","b":"m","u":1,"v":0.5,"z":44.15},{"k":"s","p":"c","b":"m","u":1,"v":0.25,"z":39.42},{"k":"s","p":"c","b":"m","u":1,"v":0,"z":38.7},
{"k":"s","p":"c","b":"g","u":0.362,"v":0,"z":35},{"k":"s","p":"c","b":"g","u":0.375,"v":0.011,"z":35},{"k":"s","p":"c","b":"g","u":0.42,"v":0.063,"z":35},{"k":"s","p":"c","b":"g","u":0.43,"v":0.14,"z":35},{"k":"s","p":"c","b":"g","u":0.42,"v":0.217,"z":35},{"k":"s","p":"c","b":"g","u":0.375,"v":0.312,"z":35},{"k":"s","p":"c","b":"g","u":0.25,"v":0.511,"z":35},{"k":"s","p":"c","b":"g","u":0.125,"v":0.686,"z":35},{"k":"s","p":"c","b":"g","u":0,"v":0.846,"z":35},{"k":"s","p":"c","b":"g","u":0,"v":1,"z":40},{"k":"s","p":"c","b":"g","u":0.5,"v":1,"z":55.3},{"k":"s","p":"c","b":"g","u":1,"v":1,"z":65.6},{"k":"s","p":"c","b":"g","u":1,"v":0.75,"z":52.87},{"k":"s","p":"c","b":"g","u":1,"v":0.5,"z":44.15},{"k":"s","p":"c","b":"g","u":1,"v":0.25,"z":39.42},{"k":"s","p":"c","b":"g","u":1,"v":0,"z":38.7},
{"k":"s","p":"c","b":"z","u":0.086,"v":1,"z":43},{"k":"s","p":"c","b":"z","u":0.125,"v":0.965,"z":43},{"k":"s","p":"c","b":"z","u":0.25,"v":0.853,"z":43},{"k":"s","p":"c","b":"z","u":0.375,"v":0.747,"z":43},{"k":"s","p":"c","b":"z","u":0.5,"v":0.655,"z":43},{"k":"s","p":"c","b":"z","u":0.625,"v":0.58,"z":43},{"k":"s","p":"c","b":"z","u":0.75,"v":0.522,"z":43},{"k":"s","p":"c","b":"z","u":0.875,"v":0.481,"z":43},{"k":"s","p":"c","b":"z","u":1,"v":0.455,"z":43},{"k":"s","p":"c","b":"z","u":1,"v":0.5,"z":44.15},{"k":"s","p":"c","b":"z","u":1,"v":0.75,"z":52.87},{"k":"s","p":"c","b":"z","u":1,"v":1,"z":65.6},{"k":"s","p":"c","b":"z","u":0.5,"v":1,"z":55.3},
{"k":"s","p":"c","b":"o","u":0.209,"v":1,"z":47},{"k":"s","p":"c","b":"o","u":0.25,"v":0.967,"z":47},{"k":"s","p":"c","b":"o","u":0.375,"v":0.871,"z":47},{"k":"s","p":"c","b":"o","u":0.5,"v":0.787,"z":47},{"k":"s","p":"c","b":"o","u":0.625,"v":0.716,"z":47},{"k":"s","p":"c","b":"o","u":0.75,"v":0.661,"z":47},{"k":"s","p":"c","b":"o","u":0.875,"v":0.621,"z":47},{"k":"s","p":"c","b":"o","u":1,"v":0.595,"z":47},{"k":"s","p":"c","b":"o","u":1,"v":0.75,"z":52.87},{"k":"s","p":"c","b":"o","u":1,"v":1,"z":65.6},{"k":"s","p":"c","b":"o","u":0.5,"v":1,"z":55.3},
{"k":"s","p":"c","b":"r","u":0.342,"v":1,"z":51},{"k":"s","p":"c","b":"r","u":0.375,"v":0.977,"z":51},{"k":"s","p":"c","b":"r","u":0.5,"v":0.897,"z":51},{"k":"s","p":"c","b":"r","u":0.625,"v":0.828,"z":51},{"k":"s","p":"c","b":"r","u":0.75,"v":0.774,"z":51},{"k":"s","p":"c","b":"r","u":0.875,"v":0.733,"z":51},{"k":"s","p":"c","b":"r","u":1,"v":0.705,"z":51},{"k":"s","p":"c","b":"r","u":1,"v":0.75,"z":52.87},{"k":"s","p":"c","b":"r","u":1,"v":1,"z":65.6},{"k":"s","p":"c","b":"r","u":0.5,"v":1,"z":55.3},
{"k":"s","p":"c","b":"c","u":0.528,"v":1,"z":56},{"k":"s","p":"c","b":"c","u":0.625,"v":0.949,"z":56},{"k":"s","p":"c","b":"c","u":0.75,"v":0.894,"z":56},{"k":"s","p":"c","b":"c","u":0.875,"v":0.851,"z":56},{"k":"s","p":"c","b":"c","u":1,"v":0.819,"z":56},{"k":"s","p":"c","b":"c","u":1,"v":1,"z":65.6},{"k":"s","p":"c","b":"c","u":0.75,"v":1,"z":61.08},
{"k":"s","p":"c","b":"a","u":0.746,"v":1,"z":61},{"k":"s","p":"c","b":"a","u":0.875,"v":0.952,"z":61},{"k":"s","p":"c","b":"a","u":1,"v":0.919,"z":61},{"k":"s","p":"c","b":"a","u":1,"v":1,"z":65.6},

{"k":"gu","p":"a","u":0,"v":0,"z":30},{"k":"gu","p":"a","u":0,"v":0.5,"z":27.5},{"k":"gu","p":"a","u":0,"v":1,"z":23},
{"k":"gu","p":"a","u":0.05,"v":0,"z":29.4},{"k":"gu","p":"a","u":0.05,"v":0.5,"z":28.8},{"k":"gu","p":"a","u":0.05,"v":1,"z":25.3},
{"k":"gu","p":"a","u":0.1,"v":0,"z":28.8},{"k":"gu","p":"a","u":0.1,"v":0.5,"z":30.1},{"k":"gu","p":"a","u":0.1,"v":1,"z":27.6},
{"k":"gu","p":"a","u":0.15,"v":0,"z":28.3},{"k":"gu","p":"a","u":0.15,"v":0.5,"z":31.4},{"k":"gu","p":"a","u":0.15,"v":1,"z":29.9},
{"k":"gu","p":"a","u":0.2,"v":0,"z":27.9},{"k":"gu","p":"a","u":0.2,"v":0.5,"z":32.7},{"k":"gu","p":"a","u":0.2,"v":1,"z":32.2},
{"k":"gu","p":"a","u":0.25,"v":0,"z":27.5},{"k":"gu","p":"a","u":0.25,"v":0.5,"z":34.1},{"k":"gu","p":"a","u":0.25,"v":1,"z":34.5},
{"k":"gu","p":"a","u":0.3,"v":0,"z":27.2},{"k":"gu","p":"a","u":0.3,"v":0.5,"z":35.4},{"k":"gu","p":"a","u":0.3,"v":1,"z":36.8},
{"k":"gu","p":"a","u":0.35,"v":0,"z":26.9},{"k":"gu","p":"a","u":0.35,"v":0.5,"z":36.8},{"k":"gu","p":"a","u":0.35,"v":1,"z":39.1},
{"k":"gu","p":"a","u":0.4,"v":0,"z":26.7},{"k":"gu","p":"a","u":0.4,"v":0.5,"z":38.2},{"k":"gu","p":"a","u":0.4,"v":1,"z":41.4},
{"k":"gu","p":"a","u":0.45,"v":0,"z":26.6},{"k":"gu","p":"a","u":0.45,"v":0.5,"z":39.6},{"k":"gu","p":"a","u":0.45,"v":1,"z":43.7},
{"k":"gu","p":"a","u":0.5,"v":0,"z":26.5},{"k":"gu","p":"a","u":0.5,"v":0.5,"z":41},{"k":"gu","p":"a","u":0.5,"v":1,"z":46},
{"k":"gu","p":"a","u":0.55,"v":0,"z":26.5},{"k":"gu","p":"a","u":0.55,"v":0.5,"z":42.4},{"k":"gu","p":"a","u":0.55,"v":1,"z":48.3},
{"k":"gu","p":"a","u":0.6,"v":0,"z":26.5},{"k":"gu","p":"a","u":0.6,"v":0.5,"z":43.9},{"k":"gu","p":"a","u":0.6,"v":1,"z":50.6},
{"k":"gu","p":"a","u":0.65,"v":0,"z":26.6},{"k":"gu","p":"a","u":0.65,"v":0.5,"z":45.4},{"k":"gu","p":"a","u":0.65,"v":1,"z":52.9},
{"k":"gu","p":"a","u":0.7,"v":0,"z":26.8},{"k":"gu","p":"a","u":0.7,"v":0.5,"z":46.8},{"k":"gu","p":"a","u":0.7,"v":1,"z":55.2},
{"k":"gu","p":"a","u":0.75,"v":0,"z":27},{"k":"gu","p":"a","u":0.75,"v":0.5,"z":48.3},{"k":"gu","p":"a","u":0.75,"v":1,"z":57.5},
{"k":"gu","p":"a","u":0.8,"v":0,"z":27.3},{"k":"gu","p":"a","u":0.8,"v":0.5,"z":49.8},{"k":"gu","p":"a","u":0.8,"v":1,"z":59.8},
{"k":"gu","p":"a","u":0.85,"v":0,"z":27.6},{"k":"gu","p":"a","u":0.85,"v":0.5,"z":51.4},{"k":"gu","p":"a","u":0.85,"v":1,"z":62.1},
{"k":"gu","p":"a","u":0.9,"v":0,"z":28},{"k":"gu","p":"a","u":0.9,"v":0.5,"z":52.9},{"k":"gu","p":"a","u":0.9,"v":1,"z":64.4},
{"k":"gu","p":"a","u":0.95,"v":0,"z":28.5},{"k":"gu","p":"a","u":0.95,"v":0.5,"z":54.4},{"k":"gu","p":"a","u":0.95,"v":1,"z":66.7},
{"k":"gu","p":"a","u":1,"v":0,"z":29},{"k":"gu","p":"a","u":1,"v":0.5,"z":56},{"k":"gu","p":"a","u":1,"v":1,"z":69},

{"k":"gv","p":"a","v":0,"u":0,"z":30},{"k":"gv","p":"a","v":0,"u":0.5,"z":26.5},{"k":"gv","p":"a","v":0,"u":1,"z":29},
{"k":"gv","p":"a","v":0.05,"u":0,"z":29.8},{"k":"gv","p":"a","v":0.05,"u":0.5,"z":28.4},{"k":"gv","p":"a","v":0.05,"u":1,"z":32.3},
{"k":"gv","p":"a","v":0.1,"u":0,"z":29.7},{"k":"gv","p":"a","v":0.1,"u":0.5,"z":30.2},{"k":"gv","p":"a","v":0.1,"u":1,"z":35.5},
{"k":"gv","p":"a","v":0.15,"u":0,"z":29.5},{"k":"gv","p":"a","v":0.15,"u":0.5,"z":31.9},{"k":"gv","p":"a","v":0.15,"u":1,"z":38.6},
{"k":"gv","p":"a","v":0.2,"u":0,"z":29.2},{"k":"gv","p":"a","v":0.2,"u":0.5,"z":33.4},{"k":"gv","p":"a","v":0.2,"u":1,"z":41.5},
{"k":"gv","p":"a","v":0.25,"u":0,"z":29},{"k":"gv","p":"a","v":0.25,"u":0.5,"z":34.9},{"k":"gv","p":"a","v":0.25,"u":1,"z":44.3},
{"k":"gv","p":"a","v":0.3,"u":0,"z":28.7},{"k":"gv","p":"a","v":0.3,"u":0.5,"z":36.3},{"k":"gv","p":"a","v":0.3,"u":1,"z":46.9},
{"k":"gv","p":"a","v":0.35,"u":0,"z":28.5},{"k":"gv","p":"a","v":0.35,"u":0.5,"z":37.7},{"k":"gv","p":"a","v":0.35,"u":1,"z":49.4},
{"k":"gv","p":"a","v":0.4,"u":0,"z":28.2},{"k":"gv","p":"a","v":0.4,"u":0.5,"z":38.9},{"k":"gv","p":"a","v":0.4,"u":1,"z":51.7},
{"k":"gv","p":"a","v":0.45,"u":0,"z":27.8},{"k":"gv","p":"a","v":0.45,"u":0.5,"z":40},{"k":"gv","p":"a","v":0.45,"u":1,"z":53.9},
{"k":"gv","p":"a","v":0.5,"u":0,"z":27.5},{"k":"gv","p":"a","v":0.5,"u":0.5,"z":41},{"k":"gv","p":"a","v":0.5,"u":1,"z":56},
{"k":"gv","p":"a","v":0.55,"u":0,"z":27.1},{"k":"gv","p":"a","v":0.55,"u":0.5,"z":41.9},{"k":"gv","p":"a","v":0.55,"u":1,"z":57.9},
{"k":"gv","p":"a","v":0.6,"u":0,"z":26.8},{"k":"gv","p":"a","v":0.6,"u":0.5,"z":42.8},{"k":"gv","p":"a","v":0.6,"u":1,"z":59.7},
{"k":"gv","p":"a","v":0.65,"u":0,"z":26.4},{"k":"gv","p":"a","v":0.65,"u":0.5,"z":43.5},{"k":"gv","p":"a","v":0.65,"u":1,"z":61.4},
{"k":"gv","p":"a","v":0.7,"u":0,"z":25.9},{"k":"gv","p":"a","v":0.7,"u":0.5,"z":44.1},{"k":"gv","p":"a","v":0.7,"u":1,"z":62.9},
{"k":"gv","p":"a","v":0.75,"u":0,"z":25.5},{"k":"gv","p":"a","v":0.75,"u":0.5,"z":44.7},{"k":"gv","p":"a","v":0.75,"u":1,"z":64.3},
{"k":"gv","p":"a","v":0.8,"u":0,"z":25},{"k":"gv","p":"a","v":0.8,"u":0.5,"z":45.1},{"k":"gv","p":"a","v":0.8,"u":1,"z":65.5},
{"k":"gv","p":"a","v":0.85,"u":0,"z":24.6},{"k":"gv","p":"a","v":0.85,"u":0.5,"z":45.5},{"k":"gv","p":"a","v":0.85,"u":1,"z":66.6},
{"k":"gv","p":"a","v":0.9,"u":0,"z":24.1},{"k":"gv","p":"a","v":0.9,"u":0.5,"z":45.8},{"k":"gv","p":"a","v":0.9,"u":1,"z":67.5},
{"k":"gv","p":"a","v":0.95,"u":0,"z":23.5},{"k":"gv","p":"a","v":0.95,"u":0.5,"z":45.9},{"k":"gv","p":"a","v":0.95,"u":1,"z":68.3},
{"k":"gv","p":"a","v":1,"u":0,"z":23},{"k":"gv","p":"a","v":1,"u":0.5,"z":46},{"k":"gv","p":"a","v":1,"u":1,"z":69},

{"k":"gu","p":"b","u":0,"v":0,"z":31},{"k":"gu","p":"b","u":0,"v":0.5,"z":29.6},{"k":"gu","p":"b","u":0,"v":1,"z":47},
{"k":"gu","p":"b","u":0.0625,"v":0,"z":32.7},{"k":"gu","p":"b","u":0.0625,"v":0.5,"z":31},{"k":"gu","p":"b","u":0.0625,"v":1,"z":48.6},
{"k":"gu","p":"b","u":0.125,"v":0,"z":34.4},{"k":"gu","p":"b","u":0.125,"v":0.5,"z":32.4},{"k":"gu","p":"b","u":0.125,"v":1,"z":50.2},
{"k":"gu","p":"b","u":0.1875,"v":0,"z":36.1},{"k":"gu","p":"b","u":0.1875,"v":0.5,"z":34},{"k":"gu","p":"b","u":0.1875,"v":1,"z":52},
{"k":"gu","p":"b","u":0.25,"v":0,"z":37.8},{"k":"gu","p":"b","u":0.25,"v":0.5,"z":35.6},{"k":"gu","p":"b","u":0.25,"v":1,"z":53.8},
{"k":"gu","p":"b","u":0.3125,"v":0,"z":39.4},{"k":"gu","p":"b","u":0.3125,"v":0.5,"z":37.3},{"k":"gu","p":"b","u":0.3125,"v":1,"z":55.8},
{"k":"gu","p":"b","u":0.375,"v":0,"z":41.1},{"k":"gu","p":"b","u":0.375,"v":0.5,"z":39.1},{"k":"gu","p":"b","u":0.375,"v":1,"z":57.8},
{"k":"gu","p":"b","u":0.4375,"v":0,"z":42.8},{"k":"gu","p":"b","u":0.4375,"v":0.5,"z":41},{"k":"gu","p":"b","u":0.4375,"v":1,"z":59.9},
{"k":"gu","p":"b","u":0.5,"v":0,"z":44.5},{"k":"gu","p":"b","u":0.5,"v":0.5,"z":43},{"k":"gu","p":"b","u":0.5,"v":1,"z":62.1},
{"k":"gu","p":"b","u":0.5625,"v":0,"z":46.2},{"k":"gu","p":"b","u":0.5625,"v":0.5,"z":45.1},{"k":"gu","p":"b","u":0.5625,"v":1,"z":64.4},
{"k":"gu","p":"b","u":0.625,"v":0,"z":47.9},{"k":"gu","p":"b","u":0.625,"v":0.5,"z":47.2},{"k":"gu","p":"b","u":0.625,"v":1,"z":66.8},
{"k":"gu","p":"b","u":0.6875,"v":0,"z":49.6},{"k":"gu","p":"b","u":0.6875,"v":0.5,"z":49.5},{"k":"gu","p":"b","u":0.6875,"v":1,"z":69.3},
{"k":"gu","p":"b","u":0.75,"v":0,"z":51.3},{"k":"gu","p":"b","u":0.75,"v":0.5,"z":51.8},{"k":"gu","p":"b","u":0.75,"v":1,"z":71.8},
{"k":"gu","p":"b","u":0.8125,"v":0,"z":52.9},{"k":"gu","p":"b","u":0.8125,"v":0.5,"z":54.2},{"k":"gu","p":"b","u":0.8125,"v":1,"z":74.5},
{"k":"gu","p":"b","u":0.875,"v":0,"z":54.6},{"k":"gu","p":"b","u":0.875,"v":0.5,"z":56.7},{"k":"gu","p":"b","u":0.875,"v":1,"z":77.2},
{"k":"gu","p":"b","u":0.9375,"v":0,"z":56.3},{"k":"gu","p":"b","u":0.9375,"v":0.5,"z":59.3},{"k":"gu","p":"b","u":0.9375,"v":1,"z":80.1},
{"k":"gu","p":"b","u":1,"v":0,"z":58},{"k":"gu","p":"b","u":1,"v":0.5,"z":62},{"k":"gu","p":"b","u":1,"v":1,"z":83},

{"k":"gv","p":"b","v":0,"u":0,"z":31},{"k":"gv","p":"b","v":0,"u":0.5,"z":44.5},{"k":"gv","p":"b","v":0,"u":1,"z":58},
{"k":"gv","p":"b","v":0.0625,"u":0,"z":29.8},{"k":"gv","p":"b","v":0.0625,"u":0.5,"z":43.2},{"k":"gv","p":"b","v":0.0625,"u":1,"z":57.6},
{"k":"gv","p":"b","v":0.125,"u":0,"z":28.9},{"k":"gv","p":"b","v":0.125,"u":0.5,"z":42.2},{"k":"gv","p":"b","v":0.125,"u":1,"z":57.4},
{"k":"gv","p":"b","v":0.1875,"u":0,"z":28.3},{"k":"gv","p":"b","v":0.1875,"u":0.5,"z":41.5},{"k":"gv","p":"b","v":0.1875,"u":1,"z":57.5},
{"k":"gv","p":"b","v":0.25,"u":0,"z":27.95},{"k":"gv","p":"b","v":0.25,"u":0.5,"z":41.2},{"k":"gv","p":"b","v":0.25,"u":1,"z":57.9},
{"k":"gv","p":"b","v":0.3125,"u":0,"z":27.9},{"k":"gv","p":"b","v":0.3125,"u":0.5,"z":41.15},{"k":"gv","p":"b","v":0.3125,"u":1,"z":58.5},
{"k":"gv","p":"b","v":0.375,"u":0,"z":28.2},{"k":"gv","p":"b","v":0.375,"u":0.5,"z":41.45},{"k":"gv","p":"b","v":0.375,"u":1,"z":59.4},
{"k":"gv","p":"b","v":0.4375,"u":0,"z":28.75},{"k":"gv","p":"b","v":0.4375,"u":0.5,"z":42.05},{"k":"gv","p":"b","v":0.4375,"u":1,"z":60.6},
{"k":"gv","p":"b","v":0.5,"u":0,"z":29.6},{"k":"gv","p":"b","v":0.5,"u":0.5,"z":43},{"k":"gv","p":"b","v":0.5,"u":1,"z":62},
{"k":"gv","p":"b","v":0.5625,"u":0,"z":30.75},{"k":"gv","p":"b","v":0.5625,"u":0.5,"z":44.25},{"k":"gv","p":"b","v":0.5625,"u":1,"z":63.7},
{"k":"gv","p":"b","v":0.625,"u":0,"z":32.2},{"k":"gv","p":"b","v":0.625,"u":0.5,"z":45.85},{"k":"gv","p":"b","v":0.625,"u":1,"z":65.65},
{"k":"gv","p":"b","v":0.6875,"u":0,"z":33.9},{"k":"gv","p":"b","v":0.6875,"u":0.5,"z":47.75},{"k":"gv","p":"b","v":0.6875,"u":1,"z":67.9},
{"k":"gv","p":"b","v":0.75,"u":0,"z":35.95},{"k":"gv","p":"b","v":0.75,"u":0.5,"z":50},{"k":"gv","p":"b","v":0.75,"u":1,"z":70.4},
{"k":"gv","p":"b","v":0.8125,"u":0,"z":38.3},{"k":"gv","p":"b","v":0.8125,"u":0.5,"z":52.55},{"k":"gv","p":"b","v":0.8125,"u":1,"z":73.1},
{"k":"gv","p":"b","v":0.875,"u":0,"z":40.9},{"k":"gv","p":"b","v":0.875,"u":0.5,"z":55.4},{"k":"gv","p":"b","v":0.875,"u":1,"z":76.2},
{"k":"gv","p":"b","v":0.9375,"u":0,"z":43.8},{"k":"gv","p":"b","v":0.9375,"u":0.5,"z":58.6},{"k":"gv","p":"b","v":0.9375,"u":1,"z":79.4},
{"k":"gv","p":"b","v":1,"u":0,"z":47},{"k":"gv","p":"b","v":1,"u":0.5,"z":62.1},{"k":"gv","p":"b","v":1,"u":1,"z":83},

{"k":"gu","p":"c","u":0,"v":0,"z":32.9},{"k":"gu","p":"c","u":0,"v":0.5,"z":28.95},{"k":"gu","p":"c","u":0,"v":1,"z":40},
{"k":"gu","p":"c","u":0.0625,"v":0,"z":33.3},{"k":"gu","p":"c","u":0.0625,"v":0.5,"z":30.56},{"k":"gu","p":"c","u":0.0625,"v":1,"z":42.19},
{"k":"gu","p":"c","u":0.125,"v":0,"z":33.6},{"k":"gu","p":"c","u":0.125,"v":0.5,"z":32.08},{"k":"gu","p":"c","u":0.125,"v":1,"z":44.29},
{"k":"gu","p":"c","u":0.1875,"v":0,"z":34},{"k":"gu","p":"c","u":0.1875,"v":0.5,"z":33.51},{"k":"gu","p":"c","u":0.1875,"v":1,"z":46.32},
{"k":"gu","p":"c","u":0.25,"v":0,"z":34.35},{"k":"gu","p":"c","u":0.25,"v":0.5,"z":34.85},{"k":"gu","p":"c","u":0.25,"v":1,"z":48.28},
{"k":"gu","p":"c","u":0.3125,"v":0,"z":34.7},{"k":"gu","p":"c","u":0.3125,"v":0.5,"z":36.11},{"k":"gu","p":"c","u":0.3125,"v":1,"z":50.15},
{"k":"gu","p":"c","u":0.375,"v":0,"z":35.1},{"k":"gu","p":"c","u":0.375,"v":0.5,"z":37.28},{"k":"gu","p":"c","u":0.375,"v":1,"z":51.94},
{"k":"gu","p":"c","u":0.4375,"v":0,"z":35.4},{"k":"gu","p":"c","u":0.4375,"v":0.5,"z":38.36},{"k":"gu","p":"c","u":0.4375,"v":1,"z":53.66},
{"k":"gu","p":"c","u":0.5,"v":0,"z":35.8},{"k":"gu","p":"c","u":0.5,"v":0.5,"z":39.35},{"k":"gu","p":"c","u":0.5,"v":1,"z":55.3},
{"k":"gu","p":"c","u":0.5625,"v":0,"z":36.2},{"k":"gu","p":"c","u":0.5625,"v":0.5,"z":40.26},{"k":"gu","p":"c","u":0.5625,"v":1,"z":56.86},
{"k":"gu","p":"c","u":0.625,"v":0,"z":36.5},{"k":"gu","p":"c","u":0.625,"v":0.5,"z":41.08},{"k":"gu","p":"c","u":0.625,"v":1,"z":58.34},
{"k":"gu","p":"c","u":0.6875,"v":0,"z":36.9},{"k":"gu","p":"c","u":0.6875,"v":0.5,"z":41.81},{"k":"gu","p":"c","u":0.6875,"v":1,"z":59.75},
{"k":"gu","p":"c","u":0.75,"v":0,"z":37.25},{"k":"gu","p":"c","u":0.75,"v":0.5,"z":42.45},{"k":"gu","p":"c","u":0.75,"v":1,"z":61.08},
{"k":"gu","p":"c","u":0.8125,"v":0,"z":37.6},{"k":"gu","p":"c","u":0.8125,"v":0.5,"z":43.01},{"k":"gu","p":"c","u":0.8125,"v":1,"z":62.32},
{"k":"gu","p":"c","u":0.875,"v":0,"z":38},{"k":"gu","p":"c","u":0.875,"v":0.5,"z":43.48},{"k":"gu","p":"c","u":0.875,"v":1,"z":63.49},
{"k":"gu","p":"c","u":0.9375,"v":0,"z":38.3},{"k":"gu","p":"c","u":0.9375,"v":0.5,"z":43.86},{"k":"gu","p":"c","u":0.9375,"v":1,"z":64.59},
{"k":"gu","p":"c","u":1,"v":0,"z":38.7},{"k":"gu","p":"c","u":1,"v":0.5,"z":44.15},{"k":"gu","p":"c","u":1,"v":1,"z":65.6},

{"k":"gv","p":"c","v":0,"u":0,"z":32.9},{"k":"gv","p":"c","v":0,"u":0.5,"z":35.8},{"k":"gv","p":"c","v":0,"u":1,"z":38.7},
{"k":"gv","p":"c","v":0.0625,"u":0,"z":31.59},{"k":"gv","p":"c","v":0.0625,"u":0.5,"z":35.57},{"k":"gv","p":"c","v":0.0625,"u":1,"z":38.51},
{"k":"gv","p":"c","v":0.125,"u":0,"z":30.51},{"k":"gv","p":"c","v":0.125,"u":0.5,"z":35.53},{"k":"gv","p":"c","v":0.125,"u":1,"z":38.56},
{"k":"gv","p":"c","v":0.1875,"u":0,"z":29.66},{"k":"gv","p":"c","v":0.1875,"u":0.5,"z":35.68},{"k":"gv","p":"c","v":0.1875,"u":1,"z":38.87},
{"k":"gv","p":"c","v":0.25,"u":0,"z":29.05},{"k":"gv","p":"c","v":0.25,"u":0.5,"z":36.02},{"k":"gv","p":"c","v":0.25,"u":1,"z":39.42},
{"k":"gv","p":"c","v":0.3125,"u":0,"z":28.67},{"k":"gv","p":"c","v":0.3125,"u":0.5,"z":36.56},{"k":"gv","p":"c","v":0.3125,"u":1,"z":40.24},
{"k":"gv","p":"c","v":0.375,"u":0,"z":28.53},{"k":"gv","p":"c","v":0.375,"u":0.5,"z":37.3},{"k":"gv","p":"c","v":0.375,"u":1,"z":41.29},
{"k":"gv","p":"c","v":0.4375,"u":0,"z":28.62},{"k":"gv","p":"c","v":0.4375,"u":0.5,"z":38.23},{"k":"gv","p":"c","v":0.4375,"u":1,"z":42.6},
{"k":"gv","p":"c","v":0.5,"u":0,"z":28.95},{"k":"gv","p":"c","v":0.5,"u":0.5,"z":39.35},{"k":"gv","p":"c","v":0.5,"u":1,"z":44.15},
{"k":"gv","p":"c","v":0.5625,"u":0,"z":29.51},{"k":"gv","p":"c","v":0.5625,"u":0.5,"z":40.67},{"k":"gv","p":"c","v":0.5625,"u":1,"z":45.96},
{"k":"gv","p":"c","v":0.625,"u":0,"z":30.31},{"k":"gv","p":"c","v":0.625,"u":0.5,"z":42.18},{"k":"gv","p":"c","v":0.625,"u":1,"z":48.01},
{"k":"gv","p":"c","v":0.6875,"u":0,"z":31.34},{"k":"gv","p":"c","v":0.6875,"u":0.5,"z":43.88},{"k":"gv","p":"c","v":0.6875,"u":1,"z":50.32},
{"k":"gv","p":"c","v":0.75,"u":0,"z":32.6},{"k":"gv","p":"c","v":0.75,"u":0.5,"z":45.77},{"k":"gv","p":"c","v":0.75,"u":1,"z":52.87},
{"k":"gv","p":"c","v":0.8125,"u":0,"z":34.09},{"k":"gv","p":"c","v":0.8125,"u":0.5,"z":47.86},{"k":"gv","p":"c","v":0.8125,"u":1,"z":55.69},
{"k":"gv","p":"c","v":0.875,"u":0,"z":35.83},{"k":"gv","p":"c","v":0.875,"u":0.5,"z":50.15},{"k":"gv","p":"c","v":0.875,"u":1,"z":58.74},
{"k":"gv","p":"c","v":0.9375,"u":0,"z":37.8},{"k":"gv","p":"c","v":0.9375,"u":0.5,"z":52.63},{"k":"gv","p":"c","v":0.9375,"u":1,"z":62.05},
{"k":"gv","p":"c","v":1,"u":0,"z":40},{"k":"gv","p":"c","v":1,"u":0.5,"z":55.3},{"k":"gv","p":"c","v":1,"u":1,"z":65.6},

{"k":"zt","p":"a","t":"20","u":-0.1,"v":1,"z":20},{"k":"zt","p":"a","t":"40","u":-0.1,"v":1,"z":40},{"k":"zt","p":"a","t":"60","u":-0.1,"v":1,"z":60},{"k":"zt","p":"a","t":"80","u":-0.1,"v":1,"z":80},{"k":"zt","p":"a","t":"100","u":-0.1,"v":1,"z":100},
{"k":"zt","p":"b","t":"20","u":-0.1,"v":1,"z":20},{"k":"zt","p":"b","t":"40","u":-0.1,"v":1,"z":40},{"k":"zt","p":"b","t":"60","u":-0.1,"v":1,"z":60},{"k":"zt","p":"b","t":"80","u":-0.1,"v":1,"z":80},{"k":"zt","p":"b","t":"100","u":-0.1,"v":1,"z":100},
{"k":"zt","p":"c","t":"20","u":-0.1,"v":1,"z":20},{"k":"zt","p":"c","t":"40","u":-0.1,"v":1,"z":40},{"k":"zt","p":"c","t":"60","u":-0.1,"v":1,"z":60},{"k":"zt","p":"c","t":"80","u":-0.1,"v":1,"z":80},{"k":"zt","p":"c","t":"100","u":-0.1,"v":1,"z":100},
{"k":"xt","p":"a","t":"0","u":0,"v":-0.07,"z":0},{"k":"xt","p":"a","t":"100","u":0.2,"v":-0.07,"z":0},{"k":"xt","p":"a","t":"200","u":0.4,"v":-0.07,"z":0},{"k":"xt","p":"a","t":"300","u":0.6,"v":-0.07,"z":0},{"k":"xt","p":"a","t":"400","u":0.8,"v":-0.07,"z":0},{"k":"xt","p":"a","t":"500","u":1,"v":-0.07,"z":0},
{"k":"xt","p":"b","t":"0","u":0,"v":-0.07,"z":0},{"k":"xt","p":"b","t":"100","u":0.2,"v":-0.07,"z":0},{"k":"xt","p":"b","t":"200","u":0.4,"v":-0.07,"z":0},{"k":"xt","p":"b","t":"300","u":0.6,"v":-0.07,"z":0},{"k":"xt","p":"b","t":"400","u":0.8,"v":-0.07,"z":0},{"k":"xt","p":"b","t":"500","u":1,"v":-0.07,"z":0},
{"k":"xt","p":"c","t":"0","u":0,"v":-0.07,"z":0},{"k":"xt","p":"c","t":"100","u":0.143,"v":-0.07,"z":0},{"k":"xt","p":"c","t":"200","u":0.286,"v":-0.07,"z":0},{"k":"xt","p":"c","t":"300","u":0.429,"v":-0.07,"z":0},{"k":"xt","p":"c","t":"400","u":0.571,"v":-0.07,"z":0},{"k":"xt","p":"c","t":"500","u":0.714,"v":-0.07,"z":0},{"k":"xt","p":"c","t":"600","u":0.857,"v":-0.07,"z":0},{"k":"xt","p":"c","t":"700","u":1,"v":-0.07,"z":0},
{"k":"yt","p":"a","t":"0","u":-0.08,"v":0,"z":0},{"k":"yt","p":"a","t":"100","u":-0.08,"v":0.143,"z":0},{"k":"yt","p":"a","t":"200","u":-0.08,"v":0.286,"z":0},{"k":"yt","p":"a","t":"300","u":-0.08,"v":0.429,"z":0},{"k":"yt","p":"a","t":"400","u":-0.08,"v":0.571,"z":0},{"k":"yt","p":"a","t":"500","u":-0.08,"v":0.714,"z":0},{"k":"yt","p":"a","t":"600","u":-0.08,"v":0.857,"z":0},{"k":"yt","p":"a","t":"700","u":-0.08,"v":1,"z":0},
{"k":"yt","p":"b","t":"5","u":-0.09,"v":0,"z":0},{"k":"yt","p":"b","t":"10","u":-0.09,"v":0.5,"z":0},{"k":"yt","p":"b","t":"15","u":-0.09,"v":1,"z":0},
{"k":"yt","p":"c","t":"5","u":-0.09,"v":0,"z":0},{"k":"yt","p":"c","t":"10","u":-0.09,"v":0.5,"z":0},{"k":"yt","p":"c","t":"15","u":-0.09,"v":1,"z":0},
{"k":"xl","p":"a","t":"MW (W)","u":0.52,"v":-0.27,"z":0},{"k":"yl","p":"a","t":"US (W)","u":-0.275,"v":0.536,"z":0},{"k":"zl","p":"a","t":"DPPH - IC50","u":-0.29,"v":1,"z":52},{"k":"zl","p":"a","t":"(mg extract/g raw material)","u":-0.42,"v":1,"z":56},
{"k":"xl","p":"b","t":"MW (W)","u":0.515,"v":-0.277,"z":0},{"k":"yl","p":"b","t":"Extraction time (min)","u":-0.263,"v":0.534,"z":0},{"k":"zl","p":"b","t":"DPPH - IC50","u":-0.289,"v":1,"z":52},{"k":"zl","p":"b","t":"(mg extract/g raw material)","u":-0.417,"v":1,"z":55.5},
{"k":"xl","p":"c","t":"US (W)","u":0.514,"v":-0.272,"z":0},{"k":"yl","p":"c","t":"Extraction time (min)","u":-0.266,"v":0.532,"z":0},{"k":"zl","p":"c","t":"DPPH - IC50","u":-0.286,"v":1,"z":52.5},{"k":"zl","p":"c","t":"(mg extract/g raw material)","u":-0.416,"v":1,"z":55.4},
{"k":"cap","p":"a","t":"a","u":-0.341,"v":-0.327,"z":0},{"k":"cap","p":"b","t":"b","u":-0.333,"v":-0.32,"z":0},{"k":"cap","p":"c","t":"c","u":-0.387,"v":-0.385,"z":0}
]},
"transform":[
{"calculate":"datum.z/100","as":"w"},
{"calculate":"(1-datum.w)*((1-datum.u)*((1-datum.v)*G[datum.p].x[0]+datum.v*G[datum.p].x[2])+datum.u*((1-datum.v)*G[datum.p].x[1]+datum.v*G[datum.p].x[3]))+datum.w*((1-datum.u)*((1-datum.v)*G[datum.p].x[4]+datum.v*G[datum.p].x[6])+datum.u*((1-datum.v)*G[datum.p].x[5]+datum.v*G[datum.p].x[7]))","as":"sx"},
{"calculate":"(1-datum.w)*((1-datum.u)*((1-datum.v)*G[datum.p].y[0]+datum.v*G[datum.p].y[2])+datum.u*((1-datum.v)*G[datum.p].y[1]+datum.v*G[datum.p].y[3]))+datum.w*((1-datum.u)*((1-datum.v)*G[datum.p].y[4]+datum.v*G[datum.p].y[6])+datum.u*((1-datum.v)*G[datum.p].y[5]+datum.v*G[datum.p].y[7]))","as":"sy"}
],
"encoding":{"x":{"field":"sx","type":"quantitative","scale":{"domain":[0,2888]},"axis":null},"y":{"field":"sy","type":"quantitative","scale":{"domain":[2811,0]},"axis":null}},
"layer":[
{"transform":[{"filter":"datum.k==='w'"}],"mark":{"type":"line","stroke":"#e2e2e2","strokeWidth":3},"encoding":{"detail":[{"field":"p"},{"field":"l"}],"order":{"value":null}}},
{"transform":[{"filter":"datum.k==='f'"}],"mark":{"type":"line","strokeWidth":1},"encoding":{"detail":{"field":"p"},"order":{"value":null},
"fill":{"field":"b","type":"nominal","legend":null,"scale":{"domain":["t","v","d","d2","e","m","g","l","y","z","n","h","o","f","r","c","a"],"range":["#005a3c","#007000","#008a00","#008a00","#00a800","#00cc00","#00ff00","#7fff00","#ffff00","#d8ff00","#ffd800","#ff8c00","#ffa500","#ff4000","#ff0000","#c80000","#a00000"]}},
"stroke":{"field":"b","type":"nominal","legend":null,"scale":{"domain":["t","v","d","d2","e","m","g","l","y","z","n","h","o","f","r","c","a"],"range":["#005a3c","#007000","#008a00","#008a00","#00a800","#00cc00","#00ff00","#7fff00","#ffff00","#d8ff00","#ffd800","#ff8c00","#ffa500","#ff4000","#ff0000","#c80000","#a00000"]}}}},
{"transform":[{"filter":"datum.k==='x'"}],"mark":{"type":"line","stroke":"#1a1a1a","strokeWidth":3},"encoding":{"detail":{"field":"p"},"order":{"value":null}}},
{"transform":[{"filter":"datum.k==='s'"}],"mark":{"type":"line","strokeWidth":1},"encoding":{"detail":{"field":"p"},"order":{"value":null},
"fill":{"field":"b","type":"nominal","legend":null,"scale":{"domain":["t","v","d","d2","e","m","g","l","y","z","n","h","o","f","r","c","a"],"range":["#005a3c","#007000","#008a00","#008a00","#00a800","#00cc00","#00ff00","#7fff00","#ffff00","#d8ff00","#ffd800","#ff8c00","#ffa500","#ff4000","#ff0000","#c80000","#a00000"]}},
"stroke":{"field":"b","type":"nominal","legend":null,"scale":{"domain":["t","v","d","d2","e","m","g","l","y","z","n","h","o","f","r","c","a"],"range":["#005a3c","#007000","#008a00","#008a00","#00a800","#00cc00","#00ff00","#7fff00","#ffff00","#d8ff00","#ffd800","#ff8c00","#ffa500","#ff4000","#ff0000","#c80000","#a00000"]}}}},
{"transform":[{"filter":"datum.k==='gu'"}],"mark":{"type":"line","stroke":"#000000","strokeWidth":2.4,"interpolate":"natural"},"encoding":{"detail":[{"field":"p"},{"field":"u"}],"order":{"value":null}}},
{"transform":[{"filter":"datum.k==='gv'"}],"mark":{"type":"line","stroke":"#000000","strokeWidth":2.4,"interpolate":"natural"},"encoding":{"detail":[{"field":"p"},{"field":"v"}],"order":{"value":null}}},
{"transform":[{"filter":"datum.k==='zt'"}],"mark":{"type":"text","font":"Liberation Serif","fontSize":38,"fill":"#444444","align":"center","baseline":"middle","angle":340},"encoding":{"text":{"field":"t"}}},
{"transform":[{"filter":"datum.k==='xt'"}],"mark":{"type":"text","font":"Liberation Serif","fontSize":38,"fill":"#444444","align":"center","baseline":"middle","angle":25},"encoding":{"text":{"field":"t"}}},
{"transform":[{"filter":"datum.k==='yt'"}],"mark":{"type":"text","font":"Liberation Serif","fontSize":38,"fill":"#444444","align":"center","baseline":"middle","angle":335},"encoding":{"text":{"field":"t"}}},
{"transform":[{"filter":"datum.k==='zl'"}],"mark":{"type":"text","font":"Liberation Serif","fontSize":48,"fill":"#111111","align":"center","baseline":"middle","angle":85},"encoding":{"text":{"field":"t"}}},
{"transform":[{"filter":"datum.k==='xl'"}],"mark":{"type":"text","font":"Liberation Serif","fontSize":48,"fill":"#111111","align":"center","baseline":"middle","angle":335},"encoding":{"text":{"field":"t"}}},
{"transform":[{"filter":"datum.k==='yl'"}],"mark":{"type":"text","font":"Liberation Serif","fontSize":48,"fill":"#111111","align":"center","baseline":"middle","angle":36},"encoding":{"text":{"field":"t"}}},
{"transform":[{"filter":"datum.k==='cap'"}],"mark":{"type":"text","font":"Liberation Serif","fontSize":66,"fontWeight":"bold","fill":"#000000","align":"center","baseline":"middle"},"encoding":{"text":{"field":"t"}}},
{"transform":[{"filter":"datum.k==='cap'"}],"mark":{"type":"text","font":"Liberation Serif","fontSize":66,"fill":"#000000","align":"center","baseline":"middle","dx":-28,"text":"("},"encoding":{}},
{"transform":[{"filter":"datum.k==='cap'"}],"mark":{"type":"text","font":"Liberation Serif","fontSize":66,"fill":"#000000","align":"center","baseline":"middle","dx":28,"text":")"},"encoding":{}}
]}
